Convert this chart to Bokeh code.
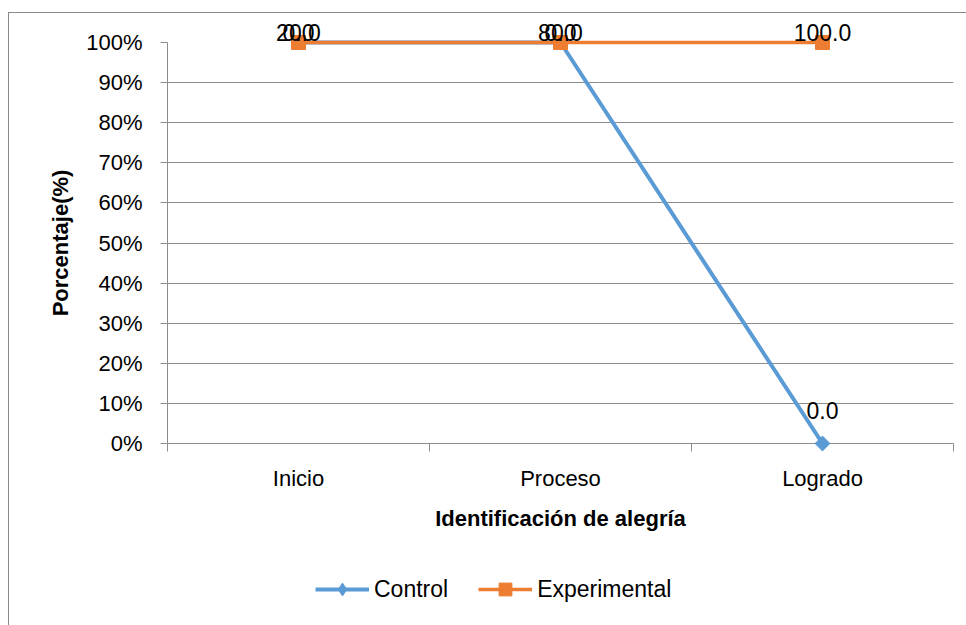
import numpy as np
from bokeh.plotting import figure
from bokeh.layouts import column
from bokeh.models import (Range1d, FixedTicker, PrintfTickFormatter, Legend, LegendItem,
                          ColumnDataSource)
from bokeh.core.properties import value
from bokeh.embed import file_html
from bokeh.resources import INLINE

# ---- data ----
categories = ["Inicio", "Proceso", "Logrado"]
control = [20.0, 80.0, 0.0]
experimental = [0.0, 0.0, 100.0]
y_ticks = [0, 10, 20, 30, 40, 50, 60, 70, 80, 90, 100]
series_names = ["Control", "Experimental"]

# 100% stacked line: normalise per category
c = np.array(control)
e = np.array(experimental)
tot = c + e
control_pct = c / tot * 100.0
exp_pct = (c + e) / tot * 100.0
xs = np.arange(len(categories)) + 0.5

FONT = "Liberation Sans"
GRID = "#8c8c8c"
BLUE = "#5B9BD5"
ORANGE = "#ED7D31"

W, H1, H2 = 957, 540, 72
p = figure(width=W, height=H1, output_backend="svg", toolbar_location=None,
           x_range=Range1d(0, len(categories)), y_range=Range1d(0, 100),
           min_border_left=158, min_border_right=13, min_border_top=29, min_border_bottom=110)
p.outline_line_color = None
p.background_fill_color = "white"
p.border_fill_color = "white"

# axes
xa = p.xaxis[0]
xa.ticker = FixedTicker(ticks=list(xs), minor_ticks=list(range(len(categories) + 1)))
xa.major_label_overrides = {float(x): cat for x, cat in zip(xs, categories)}
xa.major_tick_line_color = None
xa.major_tick_out = 0
xa.minor_tick_in = 0
xa.minor_tick_out = 8
xa.minor_tick_line_color = GRID
xa.axis_line_color = GRID
xa.major_label_text_font = FONT
xa.major_label_text_font_size = "22px"
xa.major_label_text_color = "black"
xa.major_label_standoff = 14
xa.axis_label = "Identificación de alegría"
xa.axis_label_text_font = FONT
xa.axis_label_text_font_size = "22px"
xa.axis_label_text_font_style = "bold"
xa.axis_label_text_color = "black"
xa.axis_label_standoff = 12

ya = p.yaxis[0]
ya.ticker = FixedTicker(ticks=y_ticks)
ya.formatter = PrintfTickFormatter(format="%d%%")
ya.major_tick_in = 0
ya.major_tick_out = 7
ya.major_tick_line_color = GRID
ya.minor_tick_line_color = None
ya.axis_line_color = GRID
ya.major_label_text_font = FONT
ya.major_label_text_font_size = "22px"
ya.major_label_text_color = "black"
ya.major_label_standoff = 18
ya.axis_label = "Porcentaje(%)"
ya.axis_label_text_font = FONT
ya.axis_label_text_font_size = "22px"
ya.axis_label_text_font_style = "bold"
ya.axis_label_text_color = "black"
ya.axis_label_standoff = 10

p.xgrid.visible = False
p.ygrid.grid_line_color = GRID
p.ygrid.grid_line_width = 1.2
p.ygrid.ticker = FixedTicker(ticks=y_ticks)

DIAMOND = dict(marker="square", angle=np.pi / 4, size=10.5, fill_color=BLUE, line_color=BLUE)
SQUARE = dict(marker="square", size=14, fill_color=ORANGE, line_color=ORANGE)

# series
src_c = ColumnDataSource(dict(x=xs, y=control_pct))
src_e = ColumnDataSource(dict(x=xs, y=exp_pct))
p.line("x", "y", source=src_c, line_color=BLUE, line_width=4, level="overlay")
p.scatter("x", "y", source=src_c, level="overlay", **DIAMOND)
p.line("x", "y", source=src_e, line_color=ORANGE, line_width=3.5, level="overlay")
p.scatter("x", "y", source=src_e, level="overlay", **SQUARE)

# data labels (raw values), placed above points; clamped near the top
lab_x = list(xs) + list(xs)
lab_y = list(control_pct) + list(exp_pct)
lab_t = ["%.1f" % v for v in control] + ["%.1f" % v for v in experimental]
lab_dy = [-10 if yy >= 90 else -33 for yy in lab_y]
p.text(x=lab_x, y=lab_y, text=lab_t, y_offset=lab_dy, text_align="center",
       text_baseline="alphabetic", text_font=value(FONT), text_font_size="23px",
       text_color="black", level="overlay")

# legend strip (separate small figure under the chart); its glyphs hold one NaN
# point only so that the legend swatches get drawn
q = figure(width=W, height=H2, output_backend="svg", toolbar_location=None,
           x_axis_type=None, y_axis_type=None, x_range=Range1d(0, 1), y_range=Range1d(0, 1),
           min_border=0)
q.outline_line_color = None
q.grid.visible = False
q.border_fill_color = "white"
q.background_fill_color = "white"
nan = [float("nan")]
lc = q.line(x=nan, y=nan, line_color=BLUE, line_width=4)
mc = q.scatter(x=nan, y=nan, marker="diamond", size=16, fill_color=BLUE, line_color=BLUE)
le = q.line(x=nan, y=nan, line_color=ORANGE, line_width=3.5)
me = q.scatter(x=nan, y=nan, **SQUARE)
legend = Legend(items=[LegendItem(label=series_names[0], renderers=[lc, mc]),
                       LegendItem(label=series_names[1], renderers=[le, me])],
                location=(148, 20), orientation="horizontal")
legend.label_text_font = FONT
legend.label_text_font_size = "23px"
legend.label_text_color = "black"
legend.glyph_width = 54
legend.glyph_height = 32
legend.label_standoff = 5
legend.spacing = 30
legend.padding = 0
legend.margin = 0
legend.border_line_color = None
legend.background_fill_alpha = 0
q.add_layout(legend, "center")

layout = column(p, q, spacing=0,
                styles={"margin-left": "8px", "margin-top": "12px",
                        "border-left": "1px solid #8a8a8a", "border-top": "1px solid #8a8a8a"})

open("out.html", "w").write(file_html(layout, INLINE))
